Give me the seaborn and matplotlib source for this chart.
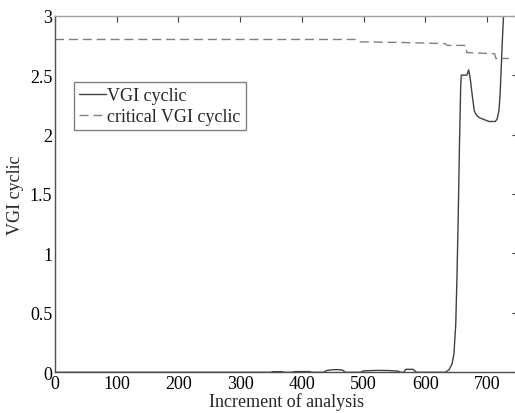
import numpy as np
import pandas as pd
import matplotlib
matplotlib.use("Agg")
import matplotlib.pyplot as plt
import seaborn as sns

# VGI cyclic (solid)
vgi_x = [0, 350, 352, 368, 370, 385, 387, 413, 415, 435, 440, 450, 460, 466, 470,
         495, 500, 520, 540, 555, 560, 565, 568, 580, 583, 586, 632, 638, 643, 646,
         649, 651, 653, 655, 657, 658, 662, 667, 670, 673, 676, 679, 683, 688,
         693, 698, 703, 708, 713, 716, 719, 721, 723, 725, 727, 729]
vgi_y = [0, 0, 0.005, 0.005, 0, 0, 0.006, 0.006, 0, 0, 0.015, 0.022, 0.022, 0.018, 0,
         0, 0.012, 0.016, 0.015, 0.01, 0, 0, 0.025, 0.025, 0.01, 0, 0, 0.02, 0.07, 0.15,
         0.4, 0.8, 1.3, 1.9, 2.4, 2.5, 2.5, 2.5, 2.545, 2.45, 2.32, 2.2, 2.16, 2.14,
         2.13, 2.12, 2.11, 2.11, 2.11, 2.13, 2.2, 2.35, 2.6, 2.85, 3.05, 3.2]

# critical VGI cyclic (dashed)
crit_x = [0, 487, 492, 560, 632, 635, 665, 667, 712, 714, 735]
crit_y = [2.80, 2.80, 2.78, 2.775, 2.765, 2.75, 2.75, 2.69, 2.68, 2.64, 2.64]

x_ticks = [0, 100, 200, 300, 400, 500, 600, 700]
y_ticks = [0, 0.5, 1, 1.5, 2, 2.5, 3]
y_tick_labels = ["0", "0.5", "1", "1.5", "2", "2.5", "3"]

sns.set_style("white")
plt.rcParams["font.family"] = ["Liberation Serif", "DejaVu Serif"]

fig = plt.figure(figsize=(5.15, 4.14), dpi=100)
ax = fig.add_axes([55 / 515, 1 - 373.3 / 414, 1 - 55 / 515 + 0.006, (373.3 - 16.7) / 414])

df1 = pd.DataFrame({"x": vgi_x, "y": vgi_y})
df2 = pd.DataFrame({"x": crit_x, "y": crit_y})
sns.lineplot(data=df1, x="x", y="y", ax=ax, color="#404040", lw=1.0, label="VGI cyclic")
sns.lineplot(data=df2, x="x", y="y", ax=ax, color="#808080", lw=1.0, linestyle=(0, (6.5, 3.5)),
             label="critical VGI cyclic")

ax.set_xlim(0, 750)
ax.set_ylim(0, 3)
ax.set_xticks(x_ticks)
ax.set_yticks(y_ticks)
ax.set_yticklabels(y_tick_labels)
ax.tick_params(direction="in", length=4, labelsize=13, colors="#404040", labelcolor="black",
               top=True, right=True, pad=2)
for s in ["left", "bottom"]:
    ax.spines[s].set_color("#505050")
for s in ["top", "right"]:
    ax.spines[s].set_color("#a0a0a0")
for s in ax.spines.values():
    s.set_linewidth(1.0)

ax.set_xlabel("Increment of analysis", fontsize=13, labelpad=0)
ax.set_ylabel("VGI cyclic", fontsize=13, labelpad=4)

leg = ax.legend(loc="upper left", bbox_to_anchor=(0.041, 0.814), fontsize=13,
                frameon=True, fancybox=False, edgecolor="#808080", framealpha=1,
                handlelength=1.45, handletextpad=0.1, borderpad=0.3, labelspacing=0.2,
                borderaxespad=0)
leg.get_frame().set_linewidth(1.0)

fig.savefig("out.png", dpi=100)
